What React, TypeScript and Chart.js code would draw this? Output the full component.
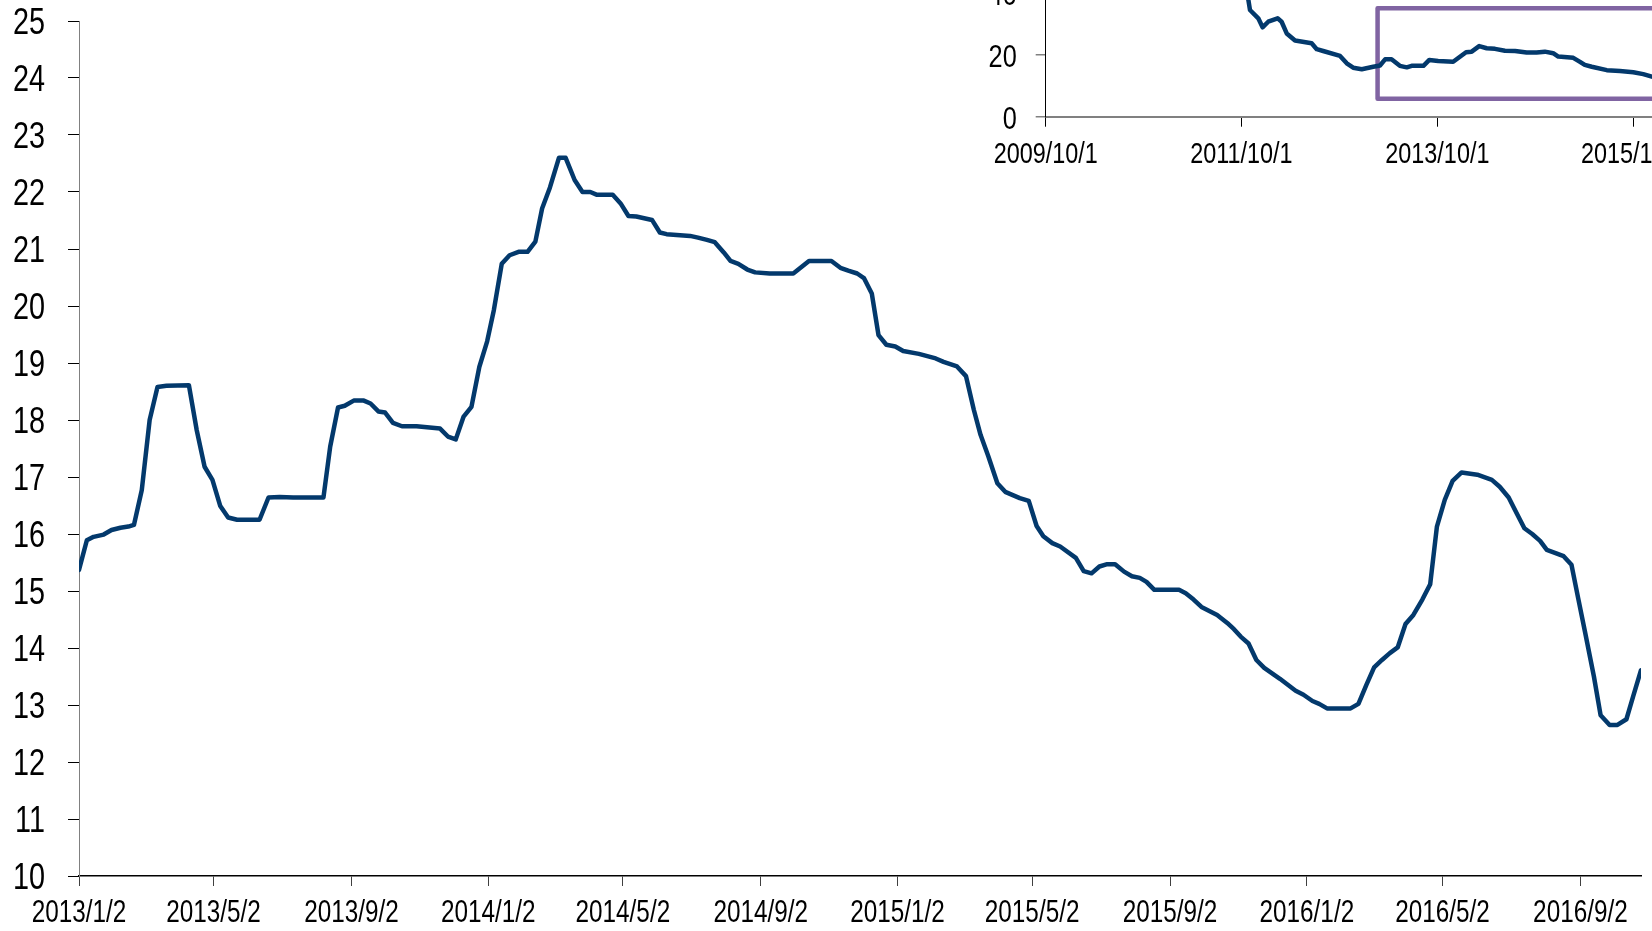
import React, { useEffect, useRef } from "react";
import { Chart, registerables } from "chart.js";

Chart.register(...registerables);

// ---------- Main chart data (x = days since 2013/1/2) ----------
const mainDays = [
  0, 7, 13, 22, 29, 37, 44, 49, 56, 63, 70, 78, 98, 105, 112, 119, 126, 133, 141, 161,
  169, 179, 191, 218, 224, 231, 237, 245, 254, 260, 267, 273, 280, 288, 301, 322, 329, 336, 343, 350,
  357, 364, 370, 377, 384, 392, 400, 407, 413, 420, 428, 434, 442, 449, 456, 462, 476, 483, 490, 497,
  511, 518, 524, 545, 552, 560, 567, 575, 581, 588, 596, 603, 616, 637, 651, 671, 679, 686, 694, 700,
  707, 713, 720, 728, 735, 749, 764, 771, 783, 791, 798, 804, 811, 819, 826, 839, 847, 854, 860, 868,
  875, 889, 896, 903, 910, 917, 924, 932, 939, 946, 952, 959, 981, 987, 994, 1001, 1015, 1024, 1030, 1036,
  1043, 1050, 1057, 1071, 1085, 1092, 1100, 1106, 1113, 1134, 1141, 1148, 1155, 1162, 1169, 1176, 1183, 1190, 1198, 1205,
  1211, 1218, 1225, 1233, 1247, 1260, 1267, 1275, 1282, 1289, 1296, 1303, 1309, 1324, 1331, 1337, 1343, 1351, 1357, 1365,
  1372, 1380, 1386, 1393,
];
const mainValues = [
  15.37, 15.89, 15.95, 15.99, 16.07, 16.11, 16.13, 16.16, 16.77, 18.0, 18.58, 18.6, 18.61, 17.82, 17.18, 16.95, 16.49, 16.29, 16.25, 16.25,
  16.64, 16.65, 16.64, 16.64, 17.53, 18.22, 18.25, 18.34, 18.34, 18.29, 18.15, 18.13, 17.95, 17.89, 17.89, 17.85, 17.71, 17.66, 18.06, 18.23,
  18.93, 19.38, 19.93, 20.74, 20.89, 20.95, 20.95, 21.13, 21.71, 22.08, 22.6, 22.6, 22.21, 22.0, 22.0, 21.95, 21.95, 21.8, 21.58, 21.57,
  21.51, 21.29, 21.26, 21.23, 21.2, 21.16, 21.12, 20.94, 20.79, 20.74, 20.64, 20.59, 20.57, 20.57, 20.79, 20.79, 20.67, 20.62, 20.57, 20.49,
  20.22, 19.49, 19.32, 19.29, 19.21, 19.16, 19.08, 19.02, 18.94, 18.77, 18.18, 17.74, 17.36, 16.89, 16.74, 16.63, 16.58, 16.14, 15.96, 15.84,
  15.78, 15.58, 15.35, 15.31, 15.43, 15.47, 15.47, 15.34, 15.26, 15.23, 15.16, 15.02, 15.02, 14.96, 14.85, 14.72, 14.58, 14.44, 14.33, 14.2,
  14.08, 13.79, 13.65, 13.46, 13.25, 13.18, 13.07, 13.02, 12.94, 12.94, 13.02, 13.35, 13.66, 13.79, 13.91, 14.01, 14.42, 14.58, 14.85, 15.12,
  16.13, 16.6, 16.93, 17.08, 17.04, 16.95, 16.83, 16.64, 16.37, 16.1, 16.0, 15.88, 15.72, 15.61, 15.46, 14.87, 14.29, 13.5, 12.82, 12.65,
  12.65, 12.75, 13.15, 13.61,
];
const mainTickDays = [0, 120, 243, 365, 485, 608, 730, 850, 973, 1095, 1216, 1339];
const mainTickLabels = [
  "2013/1/2", "2013/5/2", "2013/9/2", "2014/1/2", "2014/5/2", "2014/9/2",
  "2015/1/2", "2015/5/2", "2015/9/2", "2016/1/2", "2016/5/2", "2016/9/2",
];
const mainYTicks = [10, 11, 12, 13, 14, 15, 16, 17, 18, 19, 20, 21, 22, 23, 24, 25];
const mainXMax = 1393;

// ---------- Inset chart data (x = days since 2009/10/1) ----------
const insetDays = [
  745, 756, 762, 793, 809, 830, 865, 880, 899, 930, 992, 1011, 1035, 1098, 1123, 1147, 1179, 1222, 1247, 1266,
  1290, 1321, 1347, 1365, 1409, 1431, 1464, 1520, 1568, 1589, 1617, 1645, 1676, 1713, 1751, 1794, 1831, 1862, 1893, 1912,
  1968, 1993, 2011, 2037, 2093, 2142, 2192, 2229, 2261, 2270,
];
const insetValues = [
  41.5, 37.9, 34.6, 31.9, 29.0, 30.8, 31.9, 30.8, 27.0, 24.7, 23.8, 21.9, 21.3, 19.7, 17.3, 15.9, 15.4, 16.2, 16.6, 18.6,
  18.6, 16.5, 16.0, 16.5, 16.5, 18.4, 18.1, 17.8, 20.9, 21.1, 22.9, 22.2, 22.0, 21.4, 21.3, 20.8, 20.8, 21.1, 20.6, 19.5,
  19.1, 17.8, 16.8, 16.2, 15.1, 14.8, 14.4, 13.8, 13.0, 12.8,
];
const insetTickDays = [0, 730, 1461, 2191];
const insetTickLabels = ["2009/10/1", "2011/10/1", "2013/10/1", "2015/10/1"];
const insetYTicks = [0, 20, 40, 60];
const insetXMax = 2600;
const insetYMax = 60;
// highlighted window (in inset data units)
const boxX = [1238, 2800];
const boxY = [5.8, 35.2];

const NAVY = "#03396c";
const PURPLE = "#8064a2";
const FONT = "'Liberation Sans', Arial, sans-serif";

function toPoints(xs: number[], ys: number[]) {
  return xs.map((x, i) => ({ x, y: ys[i] }));
}

// Draws narrow (horizontally condensed) tick labels at the scales' tick positions
function makeLabelPlugin(cfg: {
  xTicks: number[];
  xLabels: string[];
  yTicks: number[];
  xSize: number;
  xSqueeze: number;
  xBaseline: number;
  ySize: number;
  ySqueeze: number;
  yGap: number;
  yBaseline: number;
}) {
  return {
    id: "narrowLabels",
    afterDraw(chart: any) {
      const { ctx, scales, chartArea } = chart;
      ctx.save();
      ctx.fillStyle = "#000";
      ctx.textBaseline = "alphabetic";
      // x labels
      ctx.font = `${cfg.xSize}px ${FONT}`;
      ctx.textAlign = "center";
      cfg.xTicks.forEach((v, i) => {
        const px = scales.x.getPixelForValue(v);
        ctx.save();
        ctx.translate(px, chartArea.bottom + cfg.xBaseline);
        ctx.scale(cfg.xSqueeze, 1);
        ctx.fillText(cfg.xLabels[i], 0, 0);
        ctx.restore();
      });
      // y labels
      ctx.font = `${cfg.ySize}px ${FONT}`;
      ctx.textAlign = "right";
      cfg.yTicks.forEach((v) => {
        const py = scales.y.getPixelForValue(v);
        ctx.save();
        ctx.translate(chartArea.left - cfg.yGap, py + cfg.yBaseline);
        ctx.scale(cfg.ySqueeze, 1);
        ctx.fillText(String(v), 0, 0);
        ctx.restore();
      });
      ctx.restore();
    },
  };
}

export default function App() {
  const mainRef = useRef<HTMLCanvasElement>(null);
  const insetRef = useRef<HTMLCanvasElement>(null);

  useEffect(() => {
    const main = new Chart(mainRef.current as HTMLCanvasElement, {
      type: "line",
      data: {
        datasets: [
          {
            data: toPoints(mainDays, mainValues),
            borderColor: NAVY,
            borderWidth: 4.5,
            pointRadius: 0,
            tension: 0,
            fill: false,
            borderJoinStyle: "round",
            borderCapStyle: "round",
          },
        ],
      },
      options: {
        responsive: false,
        animation: false,
        devicePixelRatio: 1,
        layout: { padding: { top: 21, right: 11, left: 0, bottom: 0 } },
        plugins: { legend: { display: false }, tooltip: { enabled: false } },
        scales: {
          x: {
            type: "linear",
            min: 0,
            max: mainXMax,
            afterBuildTicks: (s: any) => {
              s.ticks = mainTickDays.map((v) => ({ value: v }));
            },
            afterFit: (s: any) => {
              s.height = 55;
            },
            ticks: { display: false },
            grid: { display: true, drawOnChartArea: false, drawTicks: true, tickLength: 10, color: "#404040", lineWidth: 1 },
            border: { display: true, color: "#000", width: 1.6 },
          },
          y: {
            type: "linear",
            min: 10,
            max: 25,
            afterBuildTicks: (s: any) => {
              s.ticks = mainYTicks.map((v) => ({ value: v }));
            },
            afterFit: (s: any) => {
              s.width = 79;
            },
            ticks: { display: false },
            grid: { display: true, drawOnChartArea: false, drawTicks: true, tickLength: 11, color: "#000", lineWidth: 1 },
            border: { display: true, color: "#808080", width: 1 },
          },
        },
      },
      plugins: [
        makeLabelPlugin({
          xTicks: mainTickDays,
          xLabels: mainTickLabels,
          yTicks: mainYTicks,
          xSize: 32,
          xSqueeze: 0.76,
          xBaseline: 46,
          ySize: 36,
          ySqueeze: 0.8,
          yGap: 34,
          yBaseline: 12.5,
        }),
      ],
    } as any);

    const boxPlugin = {
      id: "highlightBox",
      beforeDatasetsDraw(chart: any) {
        const { ctx, scales } = chart;
        const x0 = scales.x.getPixelForValue(boxX[0]);
        const x1 = scales.x.getPixelForValue(boxX[1]);
        const y0 = scales.y.getPixelForValue(boxY[1]);
        const y1 = scales.y.getPixelForValue(boxY[0]);
        ctx.save();
        ctx.strokeStyle = PURPLE;
        ctx.lineWidth = 4.5;
        ctx.lineJoin = "round";
        ctx.strokeRect(x0, y0, x1 - x0, y1 - y0);
        ctx.restore();
      },
    };

    const inset = new Chart(insetRef.current as HTMLCanvasElement, {
      type: "line",
      data: {
        datasets: [
          {
            data: toPoints(insetDays, insetValues),
            borderColor: NAVY,
            borderWidth: 4.5,
            pointRadius: 0,
            tension: 0,
            fill: false,
            borderJoinStyle: "round",
            borderCapStyle: "round",
          },
        ],
      },
      options: {
        responsive: false,
        animation: false,
        devicePixelRatio: 1,
        layout: { padding: { top: 31.7, right: 17.3, left: 0, bottom: 0 } },
        plugins: { legend: { display: false }, tooltip: { enabled: false } },
        scales: {
          x: {
            type: "linear",
            min: 0,
            max: insetXMax,
            afterBuildTicks: (s: any) => {
              s.ticks = insetTickDays.map((v) => ({ value: v }));
            },
            afterFit: (s: any) => {
              s.height = 58.3;
            },
            ticks: { display: false },
            grid: { display: true, drawOnChartArea: false, drawTicks: true, tickLength: 10, color: "#000", lineWidth: 1 },
            border: { display: true, color: "#808080", width: 2 },
          },
          y: {
            type: "linear",
            min: 0,
            max: insetYMax,
            afterBuildTicks: (s: any) => {
              s.ticks = insetYTicks.map((v) => ({ value: v }));
            },
            afterFit: (s: any) => {
              s.width = 85.7;
            },
            ticks: { display: false },
            grid: { display: true, drawOnChartArea: false, drawTicks: true, tickLength: 10, color: "#808080", lineWidth: 1.5 },
            border: { display: true, color: "#000", width: 1 },
          },
        },
      },
      plugins: [
        boxPlugin,
        makeLabelPlugin({
          xTicks: insetTickDays,
          xLabels: insetTickLabels,
          yTicks: insetYTicks,
          xSize: 30,
          xSqueeze: 0.78,
          xBaseline: 46,
          ySize: 32,
          ySqueeze: 0.79,
          yGap: 29,
          yBaseline: 12,
        }),
      ],
    } as any);

    return () => {
      main.destroy();
      inset.destroy();
    };
  }, []);

  return (
    <div
      style={{
        position: "fixed",
        left: 0,
        top: 0,
        width: 1652,
        height: 931,
        overflow: "hidden",
        background: "#fff",
      }}
    >
      <canvas
        ref={mainRef}
        width={1652}
        height={931}
        style={{ position: "absolute", left: 0, top: 0, width: 1652, height: 931 }}
      />
      <canvas
        ref={insetRef}
        width={800}
        height={275}
        style={{ position: "absolute", left: 960, top: -100, width: 800, height: 275 }}
      />
    </div>
  );
}
